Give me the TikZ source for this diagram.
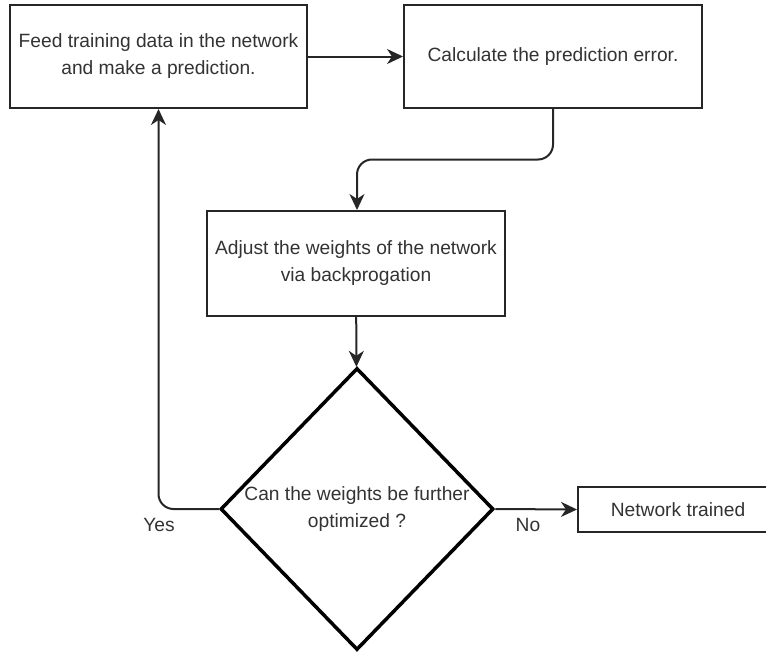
\documentclass[tikz,border=0pt]{standalone}
\usepackage{fontspec}
\setmainfont{Liberation Sans}
\usetikzlibrary{shapes.geometric,arrows.meta}
\begin{document}
\begin{tikzpicture}[x=1pt,y=-1pt,
  font=\fontsize{19.2}{27}\selectfont,
  txt/.style={text=black!80},
  stepbox/.style={draw=black!85, line width=2pt, fill=white, txt, align=center,
    inner sep=0pt, minimum width=297pt, minimum height=103pt},
  decision/.style={draw=black, line width=3.5pt, diamond, inner sep=0pt, txt,
    align=center, minimum width=273pt, minimum height=282pt},
  link/.style={draw=black!85, line width=2pt,
    -{Stealth[length=16pt,width=15pt,inset=5pt]}},
  lbl/.style={txt, inner sep=0pt}]
  \useasboundingbox (0,0) rectangle (766,653);

  % process steps
  \node[stepbox] (feed) at (158.5,56.5) {Feed training data in the network\\and make a prediction.};
  \node[stepbox, minimum width=298pt] (calc) at (553,56.5) {Calculate the prediction error.};
  \node[stepbox, minimum width=298pt, minimum height=105pt] (adjust) at (356,263.5)
    {Adjust the weights of the network\\via backprogation};
  \node[decision] (check) at (357,509) {Can the weights be further\\optimized ?};
  \node[stepbox, minimum width=200pt, minimum height=45pt, anchor=west] (done) at (577,509.5)
    {Network trained};

  % connectors
  \draw[link] (feed) -- (calc);
  \draw[link, rounded corners=15pt] (calc.south) |- (357,159.5) -- (adjust.north -| 357,0);
  \draw[link] (adjust) -- (check);
  \draw[link, rounded corners=15pt] (check.west) -| (feed.south);
  \draw[link] (check.east) -- (done.west);

  % branch labels
  \node[lbl] at (159,525) {Yes};
  \node[lbl] at (528,525) {No};
\end{tikzpicture}
\end{document}
